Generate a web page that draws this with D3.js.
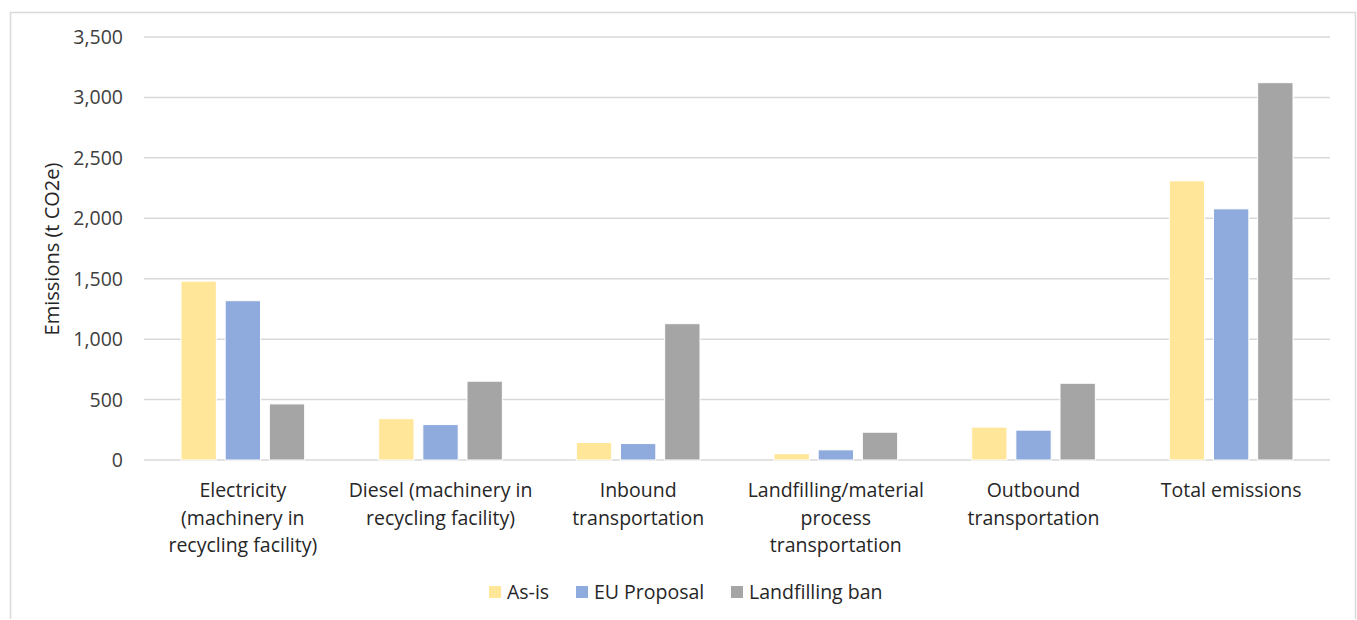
<!DOCTYPE html>
<html>
<head>
<meta charset="utf-8">
<script src="https://cdn.jsdelivr.net/npm/d3@7"></script>
<style>
  html, body { margin: 0; padding: 0; background: #fff; overflow: hidden; }
  svg { display: block; }
</style>
</head>
<body>
<script>
// categories along the x axis (line breaks as in the original)
const categories = [
    ["Electricity", "(machinery in", "recycling facility)"],
    ["Diesel (machinery in", "recycling facility)"],
    ["Inbound", "transportation"],
    ["Landfilling/material", "process", "transportation"],
    ["Outbound", "transportation"],
    ["Total emissions"]
];
const seriesNames = ["As-is", "EU Proposal", "Landfilling ban"];
const asIs = [1480, 342, 145, 52, 272, 2310];
const euProposal = [1318, 293, 136, 84, 247, 2078];
const landfillingBan = [464, 652, 1128, 230, 635, 3122];
const yTicks = [0, 500, 1000, 1500, 2000, 2500, 3000, 3500];

const colors = { "As-is": "#ffe699", "EU Proposal": "#8faadc", "Landfilling ban": "#a5a5a5" };

const width = 1357, height = 620;
const margin = { top: 37, left: 144, right: 27, bottom: 160 };
const fontSize = 19.5;

const svg = d3.select('body').append('svg')
    .attr('width', width)
    .attr('height', height)
    .style('font-family', '"Open Sans", sans-serif');

// chart frame (left, top, right edges; bottom runs off the picture)
svg.append('path')
    .attr('d', 'M10.5,619 L10.5,12.5 L1355.5,12.5 L1355.5,619')
    .attr('fill', 'none')
    .attr('stroke', '#d9d9d9')
    .attr('stroke-width', 1.5);

const innerWidth = width - margin.left - margin.right;
const innerHeight = 460 - margin.top;
const g = svg.append('g').attr('transform', `translate(${margin.left},${margin.top})`);

const keys = categories.map((c, i) => i);
const x0 = d3.scaleBand().domain(keys).range([0, innerWidth]);
const x1 = d3.scaleBand().domain(seriesNames)
    .range([37, x0.bandwidth() - 37])
    .paddingInner(0.2);
const y = d3.scaleLinear().domain([0, 3500]).range([innerHeight, 0]);

// gridlines
g.selectAll('line.grid')
    .data(yTicks)
    .enter().append('line')
    .attr('class', 'grid')
    .attr('x1', 0).attr('x2', innerWidth)
    .attr('y1', d => y(d)).attr('y2', d => y(d))
    .attr('stroke', '#d9d9d9')
    .attr('stroke-width', 1.5);

// y tick labels
g.selectAll('text.ytick')
    .data(yTicks)
    .enter().append('text')
    .attr('class', 'ytick')
    .attr('x', -21)
    .attr('y', d => y(d))
    .attr('dy', '0.36em')
    .attr('text-anchor', 'end')
    .attr('font-size', fontSize)
    .attr('fill', '#404040')
    .text(d => d3.format(',')(d));

// y axis title
svg.append('text')
    .attr('transform', 'translate(59,249) rotate(-90)')
    .attr('text-anchor', 'middle')
    .attr('font-size', 20)
    .attr('fill', '#262626')
    .text('Emissions (t CO2e)');

// bars
const rows = keys.map(i => ({
    i,
    values: [
        { name: "As-is", value: asIs[i] },
        { name: "EU Proposal", value: euProposal[i] },
        { name: "Landfilling ban", value: landfillingBan[i] }
    ]
}));

const groups = g.selectAll('g.cat')
    .data(rows)
    .enter().append('g')
    .attr('class', 'cat')
    .attr('transform', d => `translate(${x0(d.i)},0)`);

groups.selectAll('rect')
    .data(d => d.values)
    .enter().append('rect')
    .attr('x', d => x1(d.name))
    .attr('width', x1.bandwidth())
    .attr('y', d => y(d.value))
    .attr('height', d => innerHeight - y(d.value))
    .attr('fill', d => colors[d.name])
    .attr('stroke', '#fff')
    .attr('stroke-width', 1);

// category labels
const catLabels = g.selectAll('text.cat')
    .data(categories)
    .enter().append('text')
    .attr('class', 'cat')
    .attr('text-anchor', 'middle')
    .attr('font-size', fontSize)
    .attr('fill', '#262626');

catLabels.selectAll('tspan')
    .data((d, i) => d.map(line => ({ line, i })))
    .enter().append('tspan')
    .attr('x', d => x0(d.i) + x0.bandwidth() / 2)
    .attr('y', (d, j) => innerHeight + 37 + j * 27.5)
    .text(d => d.line);

// legend
const legendX = [489, 576, 731];
const legend = svg.selectAll('g.legend')
    .data(seriesNames)
    .enter().append('g')
    .attr('class', 'legend')
    .attr('transform', (d, i) => `translate(${legendX[i]},592)`);

legend.append('rect')
    .attr('x', 0).attr('y', -6)
    .attr('width', 12).attr('height', 12)
    .attr('fill', d => colors[d]);

legend.append('text')
    .attr('x', 18)
    .attr('dy', '0.36em')
    .attr('font-size', fontSize)
    .attr('fill', '#262626')
    .text(d => d);
</script>
</body>
</html>
